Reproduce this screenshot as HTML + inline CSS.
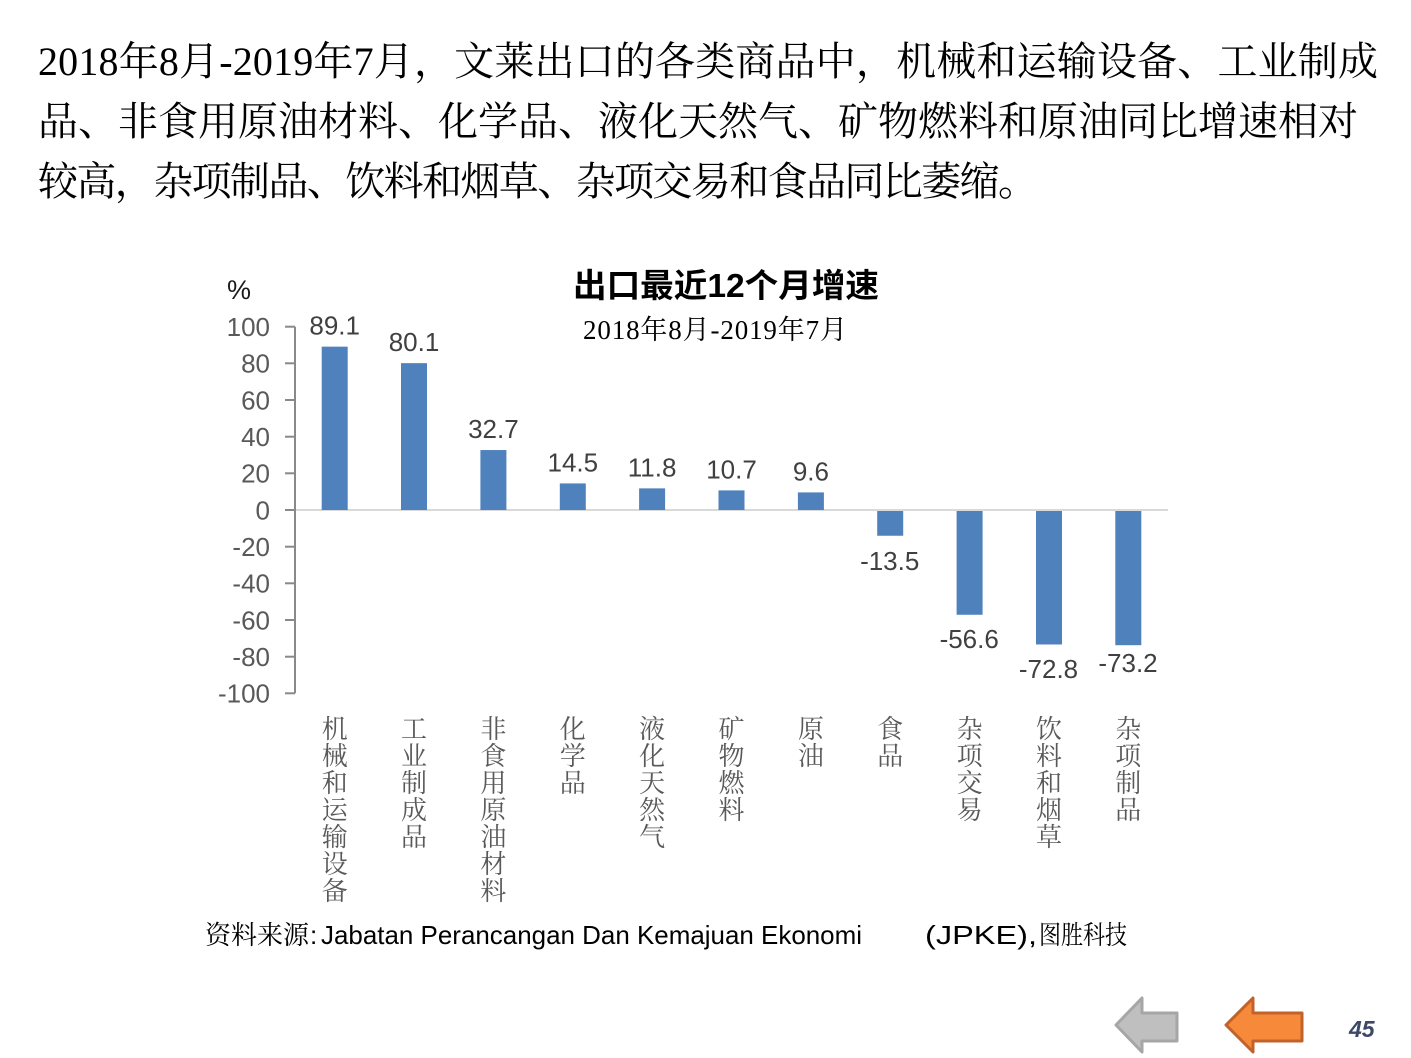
<!DOCTYPE html>
<html><head><meta charset="utf-8"><style>
html,body{margin:0;padding:0;background:#fff;}
svg{display:block;}
</style></head><body>
<svg width="1411" height="1058" viewBox="0 0 1411 1058" xmlns="http://www.w3.org/2000/svg">
<rect width="1411" height="1058" fill="#fff"/>
<g font-family="'Liberation Serif','Noto Serif CJK SC',serif" font-size="40" fill="#000">
<text x="38" y="75" textLength="1340" lengthAdjust="spacing">2018年8月-2019年7月，文莱出口的各类商品中，机械和运输设备、工业制成</text>
<text x="38" y="135" textLength="1320" lengthAdjust="spacing">品、非食用原油材料、化学品、液化天然气、矿物燃料和原油同比增速相对</text>
<text x="38" y="195" textLength="1000" lengthAdjust="spacing">较高，杂项制品、饮料和烟草、杂项交易和食品同比萎缩。</text>
</g>
<text x="573" y="297" textLength="306" lengthAdjust="spacingAndGlyphs" font-family="'Liberation Sans','Noto Sans CJK SC',sans-serif" font-weight="bold" font-size="33" fill="#000">出口最近12个月增速</text>
<text x="583" y="339" textLength="264" lengthAdjust="spacing" font-family="'Liberation Serif','Noto Serif CJK SC',serif" font-size="27" fill="#000">2018年8月-2019年7月</text>
<text x="227" y="299" font-family="'Liberation Sans',sans-serif" font-size="27" fill="#1a1a1a">%</text>
<line x1="295" y1="510" x2="1168" y2="510" stroke="#d9d9d9" stroke-width="2"/>
<g stroke="#898989" stroke-width="2">
<line x1="295" y1="326.7" x2="295" y2="693.3"/>
<line x1="285" y1="326.7" x2="295" y2="326.7"/>
<line x1="285" y1="363.3" x2="295" y2="363.3"/>
<line x1="285" y1="400" x2="295" y2="400"/>
<line x1="285" y1="436.7" x2="295" y2="436.7"/>
<line x1="285" y1="473.3" x2="295" y2="473.3"/>
<line x1="285" y1="510" x2="295" y2="510"/>
<line x1="285" y1="546.7" x2="295" y2="546.7"/>
<line x1="285" y1="583.3" x2="295" y2="583.3"/>
<line x1="285" y1="620" x2="295" y2="620"/>
<line x1="285" y1="656.7" x2="295" y2="656.7"/>
<line x1="285" y1="693.3" x2="295" y2="693.3"/>
</g>
<g font-family="'Liberation Sans',sans-serif" font-size="26" fill="#595959" text-anchor="end">
<text x="270" y="336">100</text>
<text x="270" y="372.6">80</text>
<text x="270" y="409.3">60</text>
<text x="270" y="446">40</text>
<text x="270" y="482.6">20</text>
<text x="270" y="519.3">0</text>
<text x="270" y="556">-20</text>
<text x="270" y="592.6">-40</text>
<text x="270" y="629.3">-60</text>
<text x="270" y="666">-80</text>
<text x="270" y="702.6">-100</text>
</g>
<g fill="#4f81bd">
<rect x="321.7" y="346.65" width="26" height="163.35"/>
<rect x="401.0" y="363.15" width="26" height="146.85"/>
<rect x="480.4" y="450.05" width="26" height="59.95"/>
<rect x="559.8" y="483.42" width="26" height="26.58"/>
<rect x="639.1" y="488.37" width="26" height="21.63"/>
<rect x="718.5" y="490.38" width="26" height="19.62"/>
<rect x="797.9" y="492.4" width="26" height="17.6"/>
<rect x="877.2" y="511" width="26" height="24.75"/>
<rect x="956.6" y="511" width="26" height="103.77"/>
<rect x="1036.0" y="511" width="26" height="133.47"/>
<rect x="1115.3" y="511" width="26" height="134.2"/>
</g>
<g font-family="'Liberation Sans',sans-serif" font-size="26" fill="#404040" text-anchor="middle">
<text x="334.7" y="334.6">89.1</text>
<text x="414.0" y="351.1">80.1</text>
<text x="493.4" y="438">32.7</text>
<text x="572.8" y="471.4">14.5</text>
<text x="652.1" y="476.4">11.8</text>
<text x="731.5" y="478.4">10.7</text>
<text x="810.9" y="480.4">9.6</text>
<text x="889.7" y="570">-13.5</text>
<text x="969.2" y="648">-56.6</text>
<text x="1048.5" y="678">-72.8</text>
<text x="1128" y="672">-73.2</text>
</g>
<g font-family="'Liberation Serif','Noto Serif CJK SC',serif" font-size="26" fill="#595959" text-anchor="middle">
<text x="334.7" y="738">机</text><text x="334.7" y="765">械</text><text x="334.7" y="792">和</text><text x="334.7" y="819">运</text><text x="334.7" y="846">输</text><text x="334.7" y="873">设</text><text x="334.7" y="900">备</text>
<text x="414.0" y="738">工</text><text x="414.0" y="765">业</text><text x="414.0" y="792">制</text><text x="414.0" y="819">成</text><text x="414.0" y="846">品</text>
<text x="493.4" y="738">非</text><text x="493.4" y="765">食</text><text x="493.4" y="792">用</text><text x="493.4" y="819">原</text><text x="493.4" y="846">油</text><text x="493.4" y="873">材</text><text x="493.4" y="900">料</text>
<text x="572.8" y="738">化</text><text x="572.8" y="765">学</text><text x="572.8" y="792">品</text>
<text x="652.1" y="738">液</text><text x="652.1" y="765">化</text><text x="652.1" y="792">天</text><text x="652.1" y="819">然</text><text x="652.1" y="846">气</text>
<text x="731.5" y="738">矿</text><text x="731.5" y="765">物</text><text x="731.5" y="792">燃</text><text x="731.5" y="819">料</text>
<text x="810.9" y="738">原</text><text x="810.9" y="765">油</text>
<text x="890.2" y="738">食</text><text x="890.2" y="765">品</text>
<text x="969.6" y="738">杂</text><text x="969.6" y="765">项</text><text x="969.6" y="792">交</text><text x="969.6" y="819">易</text>
<text x="1049.0" y="738">饮</text><text x="1049.0" y="765">料</text><text x="1049.0" y="792">和</text><text x="1049.0" y="819">烟</text><text x="1049.0" y="846">草</text>
<text x="1128.3" y="738">杂</text><text x="1128.3" y="765">项</text><text x="1128.3" y="792">制</text><text x="1128.3" y="819">品</text>
</g>
<g font-size="26" fill="#000">
<text x="205" y="944" textLength="104" lengthAdjust="spacing" font-family="'Liberation Serif','Noto Serif CJK SC',serif">资料来源</text>
<text x="310" y="944" font-family="'Liberation Sans',sans-serif">:</text>
<text x="321" y="944" textLength="541" lengthAdjust="spacingAndGlyphs" font-family="'Liberation Sans',sans-serif">Jabatan Perancangan Dan Kemajuan Ekonomi</text>
<text x="925" y="944" textLength="112" lengthAdjust="spacingAndGlyphs" font-family="'Liberation Sans',sans-serif">(JPKE),</text>
<text x="1039" y="944" textLength="88" lengthAdjust="spacingAndGlyphs" font-family="'Liberation Serif','Noto Serif CJK SC',serif">图胜科技</text>
</g>
<polygon points="1116,1025 1142,998 1142,1013 1177,1013 1177,1041 1142,1041 1142,1052" fill="#bfbfbf" stroke="#a6a6a6" stroke-width="3" stroke-linejoin="round"/>
<polygon points="1226,1025 1253,998 1253,1013 1302,1013 1302,1041 1253,1041 1253,1052" fill="#f7893a" stroke="#c0622a" stroke-width="3" stroke-linejoin="round"/>
<text x="1349" y="1037" font-family="'Liberation Sans',sans-serif" font-weight="bold" font-style="italic" font-size="23" fill="#3d4966">45</text>
</svg>
</body></html>
